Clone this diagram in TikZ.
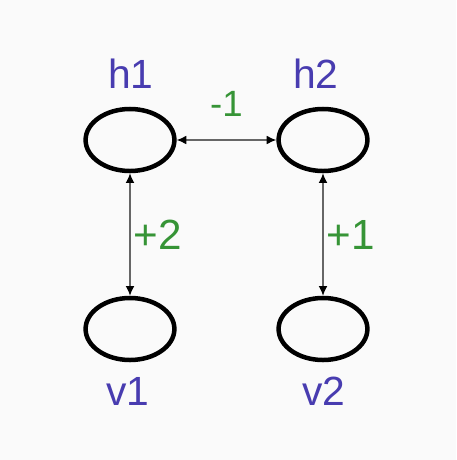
\documentclass[tikz,border=0pt]{standalone}
\usepackage{fontspec}
\setmainfont{Liberation Sans}
\usepackage{tikz}
\usetikzlibrary{shapes.geometric,arrows.meta}

\definecolor{unitblue}{RGB}{72,60,176}
\definecolor{weightgreen}{RGB}{54,148,54}

\begin{document}
\begin{tikzpicture}[x=0.025cm, y=-0.025cm,
    unit/.style={ellipse, draw, line width=3.2pt, minimum width=2.22cm, minimum height=1.55cm},
    unitname/.style={text=unitblue, font=\fontsize{29}{32}\selectfont, inner sep=0pt},
    weight/.style={text=weightgreen, font=\fontsize{30}{33}\selectfont, inner sep=2pt},
    link/.style={draw, black!60, line width=1pt, {Latex[length=2.4mm,width=2.2mm,black]}-{Latex[length=2.4mm,width=2.2mm,black]}}]
    \fill [black!2] (0,0) rectangle (456,460);
    \useasboundingbox (0,0) rectangle (456,460);
    % Place nodes
    \node [unit] (h1) at (130,140) {};
    \node [unit] (h2) at (323,140) {};
    \node [unit] (v1) at (130,329) {};
    \node [unit] (v2) at (323,329) {};
    \node [unitname] (h1name) at (131,74) {h1};
    \node [unitname] (h2name) at (316,74) {h2};
    \node [unitname] (v1name) at (128,391) {v1};
    \node [unitname] (v2name) at (324,391) {v2};
    % Connections
    \path [link] (h1) -- node [weight, above=0.5cm, font=\fontsize{26}{29}\selectfont] {-1} (h2);
    \path [link] (h1) -- node [weight, right] {+2} (v1);
    \path [link] (h2) -- node [weight, right] {+1} (v2);
\end{tikzpicture}
\end{document}
